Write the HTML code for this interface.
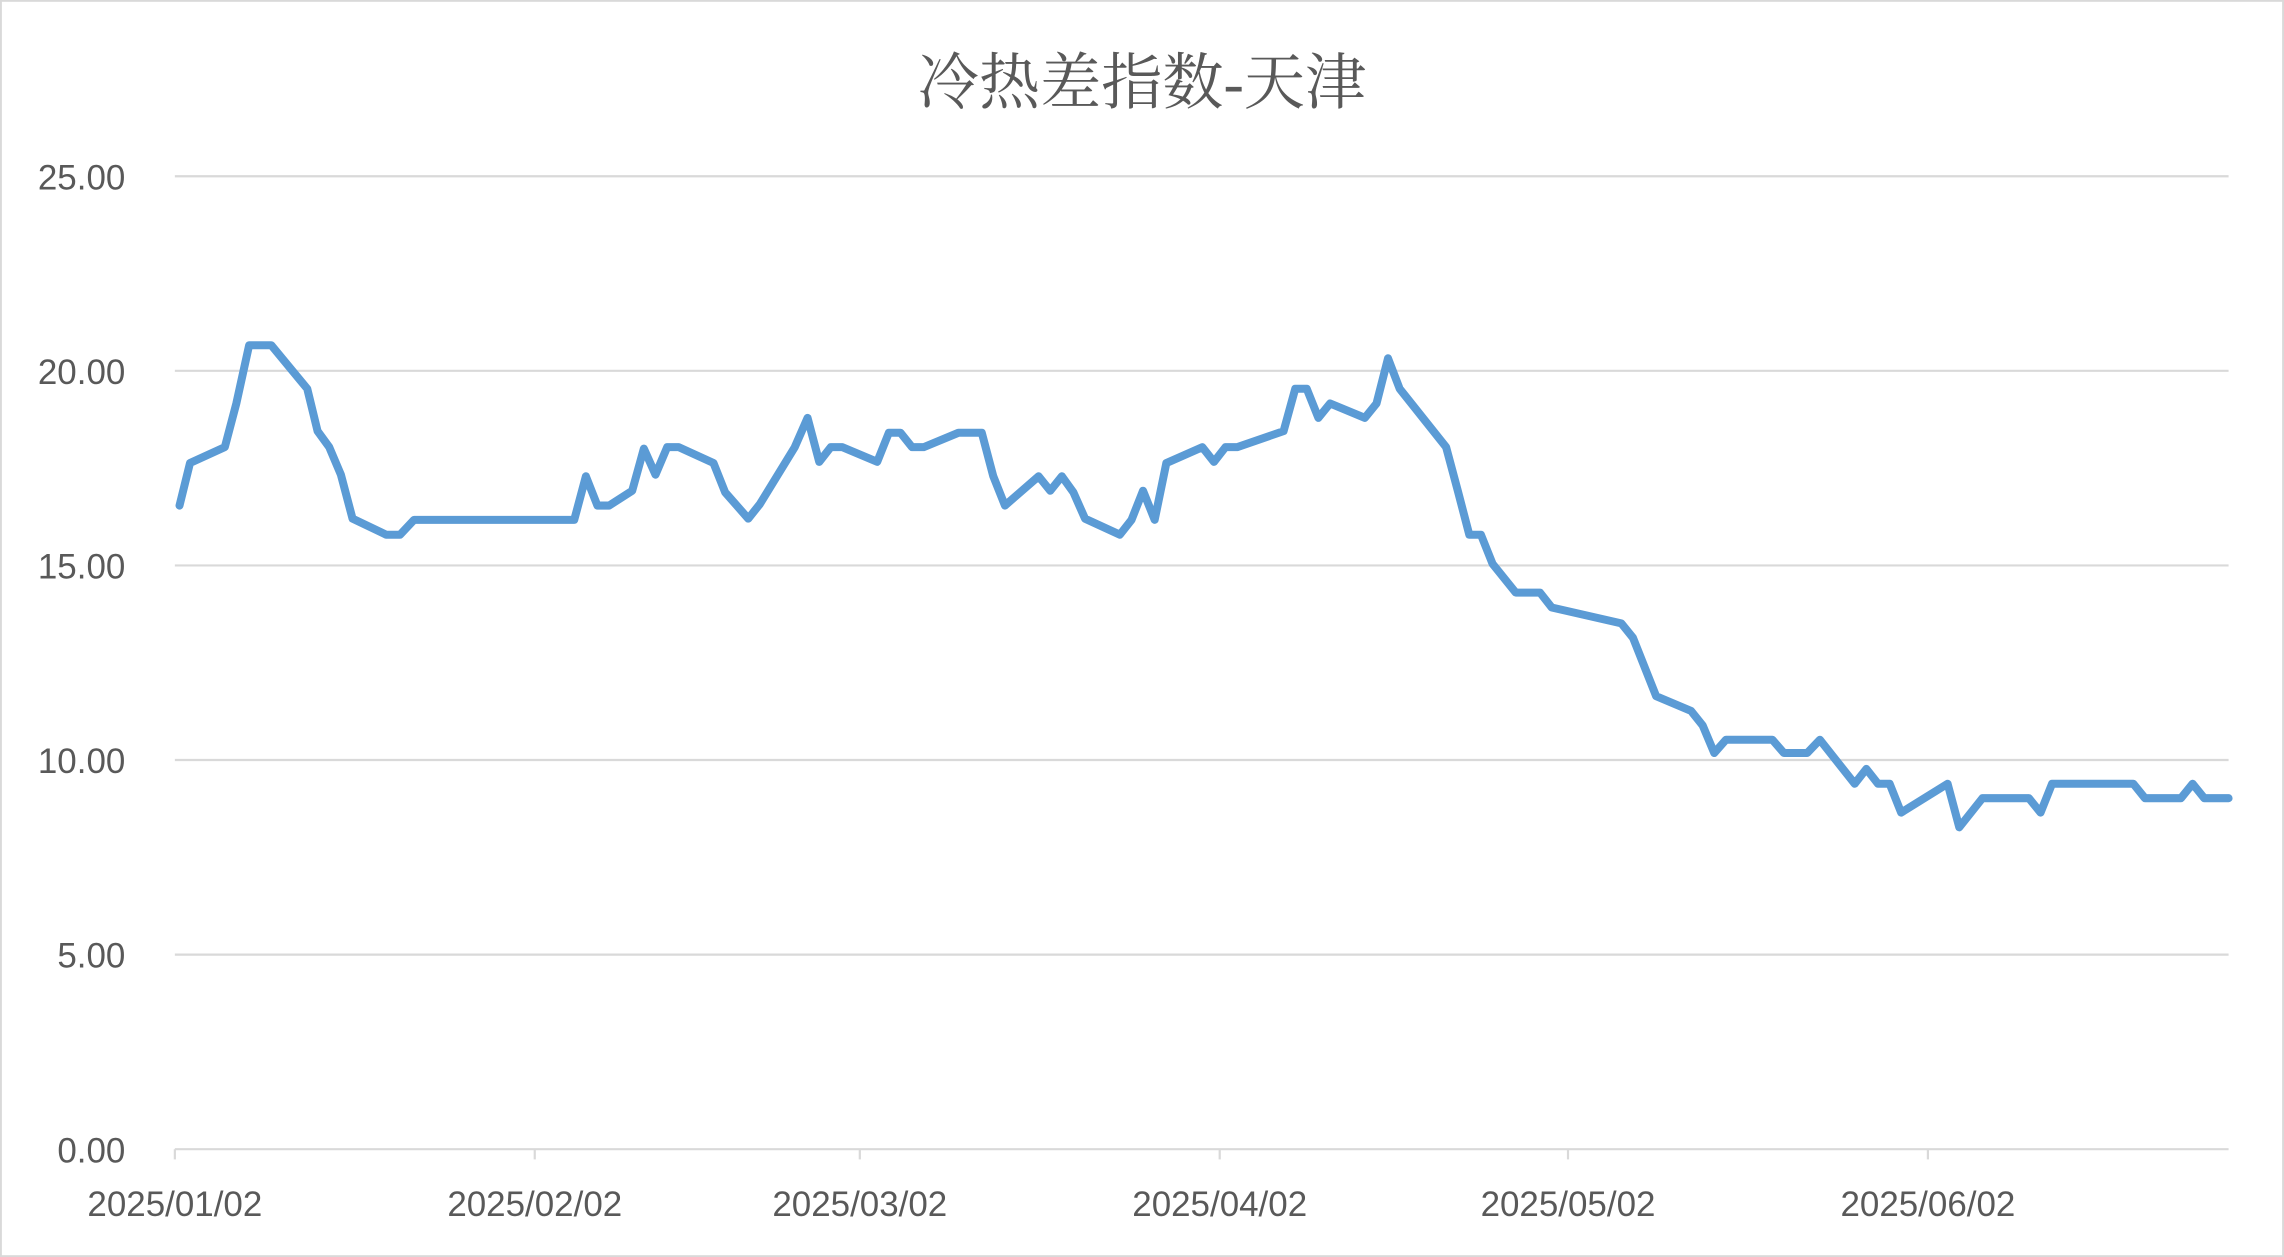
<!DOCTYPE html>
<html><head><meta charset="utf-8"><style>
html,body{margin:0;padding:0;background:#fff;}
svg{display:block;}
</style></head><body>
<svg id="chart" width="2284" height="1257" viewBox="0 0 1568 863" xmlns="http://www.w3.org/2000/svg">
<rect x="0.5" y="0.5" width="1567" height="862" fill="#fff" stroke="#d9d9d9" stroke-width="1.5"/>
<text x="784" y="71" text-anchor="middle" font-family="'Liberation Serif','Noto Serif CJK SC',serif" font-size="42" fill="#595959">冷热差指数-天津</text>
<g id="grid"></g><g id="axes"></g><g id="series"></g>
</svg>
<script>
const yTicks=[0,5,10,15,20,25];
const xTickLabels=["2025/01/02","2025/02/02","2025/03/02","2025/04/02","2025/05/02","2025/06/02"];
const xTickDays=[0,31,59,90,120,151];
const days=[0.4,1.3,4.3,5.3,6.4,8.3,11.4,12.3,13.3,14.3,15.3,18.2,19.4,20.6,34.4,35.4,36.4,37.4,39.4,40.4,41.4,42.4,43.4,46.4,47.4,49.4,50.4,53.4,54.5,55.5,56.5,57.5,60.5,61.5,62.5,63.5,64.5,67.5,69.5,70.5,71.5,74.4,75.4,76.4,77.4,78.4,81.4,82.4,83.4,84.4,85.4,88.5,89.5,90.5,91.5,95.5,96.5,97.5,98.5,99.5,102.5,103.5,104.5,105.5,109.5,110.5,111.5,112.5,113.5,115.5,117.6,118.6,124.6,125.6,127.6,130.6,131.6,132.6,133.6,137.6,138.6,140.6,141.7,144.7,145.7,146.7,147.7,148.7,152.7,153.7,155.7,159.7,160.7,161.7,168.7,169.7,172.8,173.8,174.8,176.9];
const values=[16.54,17.63,18.04,19.16,20.66,20.66,19.54,18.45,18.04,17.33,16.2,15.79,15.79,16.17,16.17,17.29,16.54,16.54,16.92,18.0,17.33,18.04,18.04,17.63,16.88,16.2,16.58,18.04,18.79,17.66,18.04,18.04,17.66,18.41,18.41,18.04,18.04,18.41,18.41,17.29,16.54,17.29,16.92,17.29,16.88,16.2,15.79,16.17,16.92,16.17,17.63,18.04,17.66,18.04,18.04,18.45,19.54,19.54,18.79,19.16,18.79,19.16,20.32,19.54,18.04,16.92,15.79,15.79,15.04,14.3,14.3,13.92,13.51,13.14,11.64,11.26,10.89,10.18,10.52,10.52,10.18,10.18,10.52,9.39,9.77,9.39,9.39,8.65,9.39,8.27,9.02,9.02,8.65,9.39,9.39,9.02,9.02,9.39,9.02,9.02];
const NS="http://www.w3.org/2000/svg";
const x0=120,x1=1530,dayMax=176.9,yTop=121,yBot=789;
const xs=d=>x0+(d/dayMax)*(x1-x0);
const ys=v=>yBot-(v/25)*(yBot-yTop);
const grid=document.getElementById('grid'),axes=document.getElementById('axes'),ser=document.getElementById('series');
function mk(t,a){const e=document.createElementNS(NS,t);for(const k in a)e.setAttribute(k,a[k]);return e;}
yTicks.forEach(v=>{
  if(v>0){const l=mk('line',{x1:x0,x2:x1,y1:ys(v),y2:ys(v),stroke:'#d9d9d9','stroke-width':1.5});
  
  grid.appendChild(l);}
  const t=mk('text',{x:86,y:ys(v)+9,'text-anchor':'end','font-family':"'Liberation Sans',sans-serif",'font-size':24,fill:'#595959'});
  t.textContent=v.toFixed(2);
  
  axes.appendChild(t);
});
const ax=mk('line',{x1:x0,x2:x1,y1:yBot,y2:yBot,stroke:'#d9d9d9','stroke-width':1.5});

axes.appendChild(ax);
xTickDays.forEach((d,i)=>{
  const tk=mk('line',{x1:xs(d),x2:xs(d),y1:yBot,y2:yBot+7,stroke:'#d9d9d9','stroke-width':1.5});
  
  axes.appendChild(tk);
  const t=mk('text',{x:xs(d),y:835,'text-anchor':'middle','font-family':"'Liberation Sans',sans-serif",'font-size':24,fill:'#595959'});
  t.textContent=xTickLabels[i];
  
  axes.appendChild(t);
});
const pts=days.map((d,i)=>xs(d).toFixed(1)+','+ys(values[i]).toFixed(1)).join(' ');
const pl=mk('polyline',{points:pts,fill:'none',stroke:'#5b9bd5','stroke-width':5.5,'stroke-linejoin':'round','stroke-linecap':'round'});

ser.appendChild(pl);
</script>
</body></html>
